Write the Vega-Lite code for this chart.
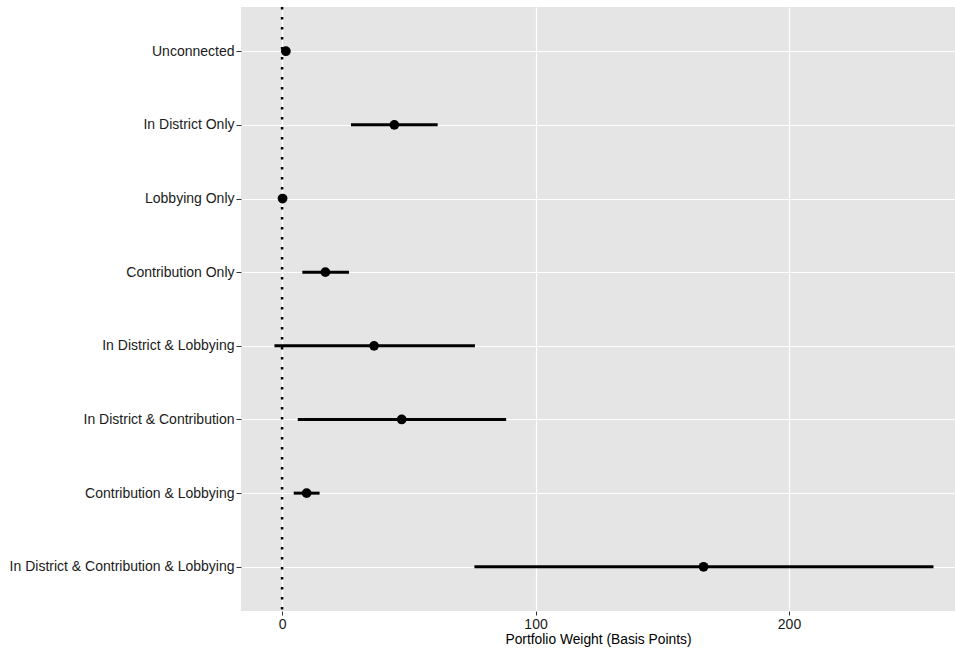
{
  "$schema": "https://vega.github.io/schema/vega-lite/v6.json",
  "width": 714,
  "height": 604,
  "autosize": {"type": "none"},
  "padding": {"left": 241, "top": 7, "right": 0, "bottom": 37},
  "background": "white",
  "config": {
    "view": {"fill": "#E5E5E5", "stroke": null},
    "font": "Liberation Sans",
    "axis": {
      "gridColor": "white",
      "gridWidth": 1.2,
      "domain": false,
      "tickColor": "#333333",
      "tickSize": 5,
      "tickWidth": 1,
      "labelColor": "#1a1a1a",
      "labelFontSize": 14,
      "labelLimit": 400,
      "labelFont": "Liberation Sans",
      "titleFont": "Liberation Sans",
      "titleFontSize": 13.8,
      "titleFontWeight": "normal",
      "titleColor": "black"
    }
  },
  "data": {
    "values": [
      {"group": "Unconnected", "est": 1.5, "lo": 1.0, "hi": 2.0},
      {"group": "In District Only", "est": 44.3, "lo": 27.2, "hi": 61.4},
      {"group": "Lobbying Only", "est": 0.2, "lo": -0.2, "hi": 0.6},
      {"group": "Contribution Only", "est": 17.1, "lo": 8.0, "hi": 26.4},
      {"group": "In District & Lobbying", "est": 36.3, "lo": -3.0, "hi": 76.1},
      {"group": "In District & Contribution", "est": 47.2, "lo": 6.2, "hi": 88.4},
      {"group": "Contribution & Lobbying", "est": 9.7, "lo": 4.6, "hi": 14.8},
      {"group": "In District & Contribution & Lobbying", "est": 166.3, "lo": 75.9, "hi": 257.0}
    ]
  },
  "encoding": {
    "y": {
      "field": "group",
      "type": "nominal",
      "sort": null,
      "scale": {"type": "point", "padding": 0.6},
      "axis": {"title": null, "grid": true, "labelPadding": 2}
    }
  },
  "layer": [
    {
      "mark": {"type": "rule", "color": "black", "strokeWidth": 2.5, "strokeDash": [2.5, 7.5]},
      "data": {"values": [{"z": 0}]},
      "encoding": {
        "x": {"field": "z", "type": "quantitative"},
        "y": null
      }
    },
    {
      "mark": {"type": "rule", "color": "black", "strokeWidth": 3},
      "encoding": {
        "x": {
          "field": "lo",
          "type": "quantitative",
          "scale": {"domain": [-16.2, 265.5], "nice": false, "zero": false},
          "axis": {
            "title": "Portfolio Weight (Basis Points)",
            "values": [0, 100, 200],
            "grid": true,
            "tickSize": 4,
            "labelPadding": 2,
            "titlePadding": 1
          }
        },
        "x2": {"field": "hi"}
      }
    },
    {
      "mark": {"type": "circle", "color": "black", "opacity": 1, "size": 95},
      "encoding": {
        "x": {"field": "est", "type": "quantitative"}
      }
    }
  ]
}
